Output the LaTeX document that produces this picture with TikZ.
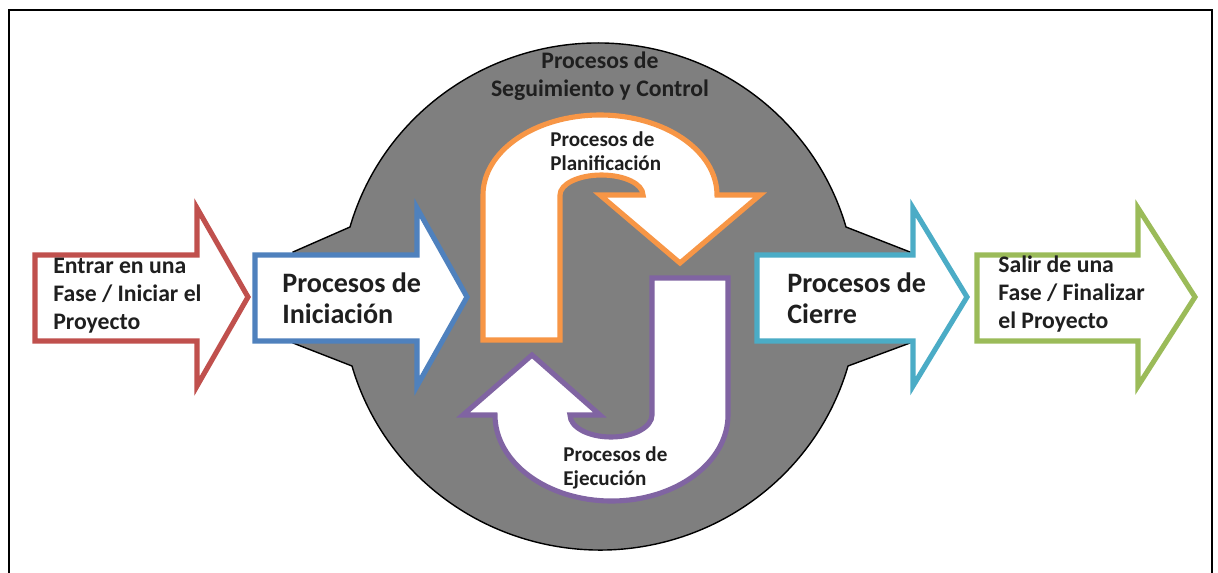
\documentclass[tikz,border=0pt]{standalone}
\usepackage{fontspec}
\setmainfont{Carlito}
\definecolor{rojo}{HTML}{C0504D}
\definecolor{azul}{HTML}{4F81BD}
\definecolor{naranja}{HTML}{F79646}
\definecolor{morado}{HTML}{8064A2}
\definecolor{cian}{HTML}{4BACC6}
\definecolor{verde}{HTML}{9BBB59}
\definecolor{gris}{HTML}{7F7F7F}
\tikzset{
  flecha/.style={fill=white, line width=2.9pt, line join=miter},
  texto/.style={anchor=west, align=left, inner sep=0pt, text=black!88},
  grande/.style={font=\fontsize{16}{17.5}\selectfont\bfseries},
  mediano/.style={font=\fontsize{13.5}{16}\selectfont\bfseries},
  chico/.style={font=\fontsize{12}{13.5}\selectfont\bfseries}
}
\begin{document}
\begin{tikzpicture}[x=0.02cm, y=0.02cm]
\useasboundingbox (0,0) rectangle (1218,-572);
\clip (0,0) rectangle (1218,-572);
\draw[line width=1.2pt] (9,-590) -- (9,-10) -- (1212,-10) -- (1212,-590);
\draw[fill=gris, draw=black, line width=0.8pt] (293,-252) -- (350,-227) arc[start angle=164, end angle=16, x radius=258, y radius=254] -- (910,-252) -- (910,-343) -- (848,-366) arc[start angle=-16, end angle=-164, x radius=258, y radius=254] -- (293,-343) -- cycle;
\foreach \xa/\xb/\xc/\col in {35/197/248/rojo, 255/417/467/azul, 757/913/967/cian, 977/1138/1195/verde}
  \draw[flecha, draw=\col] (\xa,-255) -- (\xb,-255) -- (\xb,-208) -- (\xc,-297) -- (\xb,-386) -- (\xb,-341) -- (\xa,-341) -- cycle;
\draw[flecha, draw=naranja] (483,-340) -- (483,-195) arc[start angle=180, end angle=0, x radius=117, y radius=80] -- (760,-195) -- (680,-263) -- (600,-195) -- (643,-195) arc[start angle=0, end angle=180, x radius=41.5, y radius=20] -- (560,-340) -- cycle;
\draw[flecha, draw=morado] (728,-278) -- (728,-415) arc[start angle=0, end angle=-180, x radius=116.5, y radius=86] -- (463,-415) -- (532,-355) -- (600,-415) -- (570,-415) arc[start angle=180, end angle=360, x radius=41, y radius=22] -- (652,-278) -- cycle;
\node[texto, mediano] (entrar) at (53,-296) {Entrar en una\\Fase / Iniciar el\\Proyecto};
\node[texto, grande] (iniciacion) at (282,-298) {Procesos de\\Iniciación};
\node[texto, grande] (cierre) at (787,-298) {Procesos de\\Cierre};
\node[texto, mediano] (salir) at (998,-294) {Salir de una\\Fase / Finalizar\\el Proyecto};
\node[mediano, align=center, inner sep=0pt, text=black!88] (seguimiento) at (600,-76) {Procesos de\\Seguimiento y Control};
\node[texto, chico] (planificacion) at (550,-151) {Procesos de\\Planificación};
\node[texto, chico] (ejecucion) at (563,-468) {Procesos de\\Ejecución};
\end{tikzpicture}
\end{document}
